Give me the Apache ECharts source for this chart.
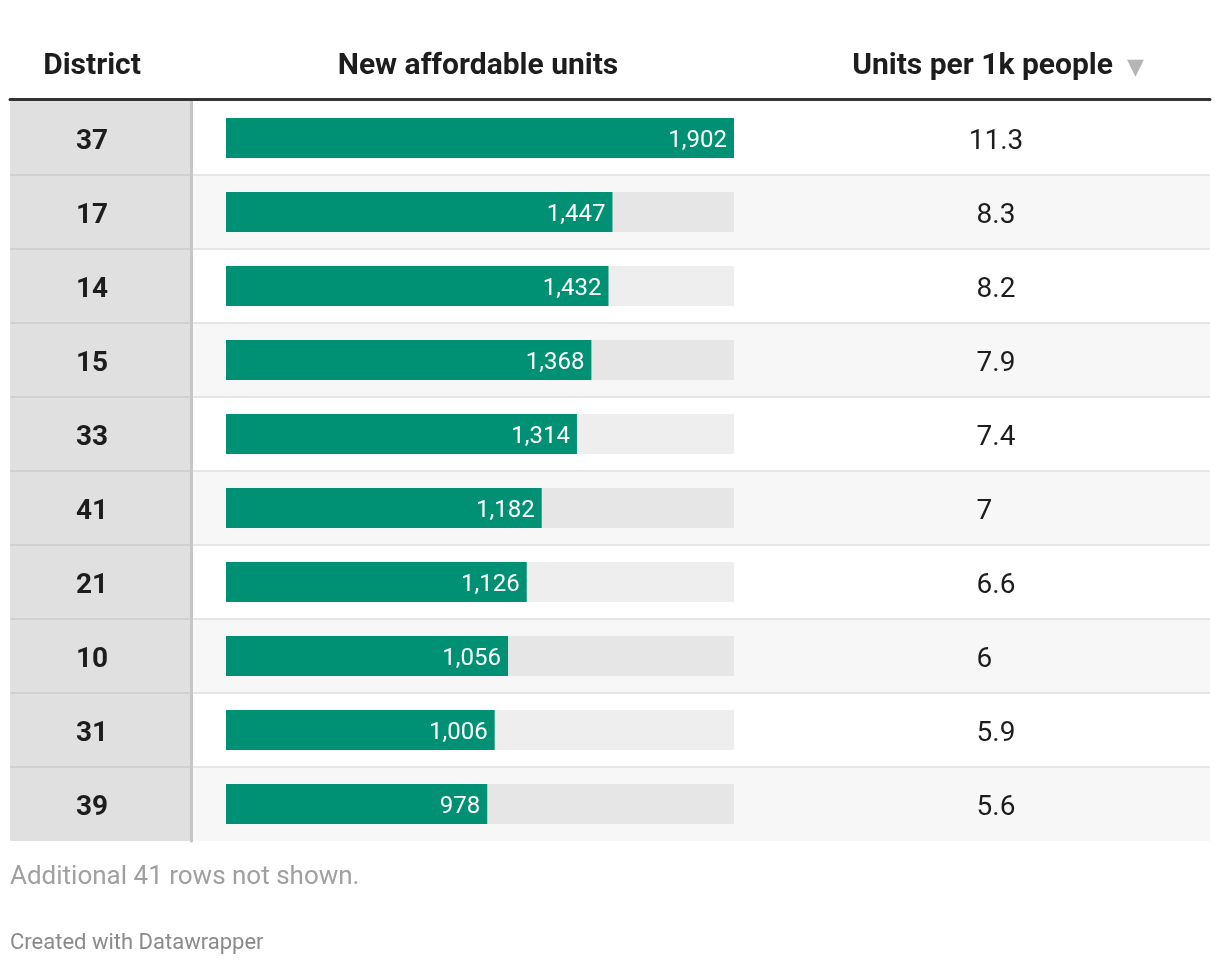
<!DOCTYPE html>
<html><head><meta charset="utf-8">
<script src="https://cdn.jsdelivr.net/npm/echarts@6/dist/echarts.min.js"></script>
<style>html,body{margin:0;padding:0;background:#fff}#c{width:1220px;height:966px}</style>
</head><body><div id="c"></div>
<script>
const districts = ['37','17','14','15','33','41','21','10','31','39'];
const units = [1902,1447,1432,1368,1314,1182,1126,1056,1006,978];
const perK = [11.3,8.3,8.2,7.9,7.4,7,6.6,6,5.9,5.6];
const headers = ['District','New affordable units','Units per 1k people'];
const note = 'Additional 41 rows not shown.';
const credit = 'Created with Datawrapper';

const FONT = 'Roboto';
const TOP = 101, H = 740;
const chart = echarts.init(document.getElementById('c'), null, {renderer:'canvas'});

// integers get an invisible ".0" so they line up like Datawrapper's centred numbers
function fmtPerK(v){
  const s = String(v);
  return s.indexOf('.') >= 0 ? '{v|' + s + '}' : '{v|' + s + '}{h|.0}';
}

const hStyle = {fontSize:30, fontWeight:'bold', color:'#1d1d1d', fontFamily:FONT};

chart.setOption({
  animation:false,
  title:[
    {text:headers[0], left:92, top:51, textAlign:'center', padding:0, textStyle:hStyle},
    {text:headers[1], left:478, top:51, textAlign:'center', padding:0, textStyle:hStyle},
    {text:'{a|' + headers[2] + '}{b|▼}', left:998, top:51, textAlign:'center', padding:0,
      textStyle:{rich:{a:hStyle, b:{fontSize:22, color:'#b5b5b5', fontFamily:'DejaVu Sans', padding:[4,0,0,14]}}}},
    {text:note, left:10, top:864, padding:0, textStyle:{fontSize:26, color:'#a0a0a0', fontWeight:'normal', fontFamily:FONT}},
    {text:credit, left:10, top:932, padding:0, textStyle:{fontSize:22, color:'#8a8a8a', fontWeight:'normal', fontFamily:FONT}}
  ],
  grid:[
    {left:10, right:10, top:TOP, height:H},
    {left:10, width:181, top:TOP, height:H},
    {left:226, width:508, top:TOP, height:H},
    {left:900, width:96, top:TOP, height:H}
  ],
  xAxis:[
    {gridIndex:0, type:'value', position:'top', min:0, max:1, offset:2,
      axisLine:{show:true, onZero:false, lineStyle:{color:'#333', width:3}},
      axisTick:{show:false}, axisLabel:{show:false}, splitLine:{show:false}},
    {gridIndex:1, type:'value', show:false},
    {gridIndex:2, type:'value', show:false, min:0, max:'dataMax'},
    {gridIndex:3, type:'value', show:false}
  ],
  yAxis:[
    {gridIndex:0, type:'category', inverse:true, data:districts,
      axisLine:{show:false}, axisTick:{show:false}, axisLabel:{show:false},
      splitArea:{show:true, areaStyle:{color:['#ffffff','#f7f7f7']}},
      splitLine:{show:true, showMinLine:false, showMaxLine:false, lineStyle:{color:'#e6e6e6', width:2}}},
    {gridIndex:1, type:'category', inverse:true, data:districts, position:'right',
      axisLine:{show:true, onZero:false, lineStyle:{color:'#c6c6c6', width:3}}, axisTick:{show:false},
      axisLabel:{show:true, inside:true, margin:99, align:'center',
        formatter:v => '{d|' + v + '}',
        rich:{d:{fontSize:28, fontWeight:'bold', color:'#1d1d1d', fontFamily:FONT, padding:[7,0,0,0]}}},
      splitArea:{show:true, areaStyle:{color:['#e0e0e0']}},
      splitLine:{show:true, showMinLine:false, showMaxLine:false, lineStyle:{color:'#d0d0d0', width:2}}},
    {gridIndex:2, type:'category', inverse:true, data:districts, show:false},
    {gridIndex:3, type:'category', inverse:true, data:districts, position:'right',
      axisLine:{show:false, onZero:false}, axisTick:{show:false},
      axisLabel:{show:true, inside:false, margin:0, align:'center',
        formatter:(v, i) => fmtPerK(perK[i]),
        rich:{
          v:{fontSize:28, color:'#1d1d1d', fontFamily:FONT, padding:[7,0,0,0]},
          h:{fontSize:28, color:'rgba(0,0,0,0)', fontFamily:FONT, padding:[7,0,0,0]}
        }}}
  ],
  series:[
    {type:'bar', xAxisIndex:2, yAxisIndex:2, data:units, barWidth:40,
      itemStyle:{color:'#009174'},
      showBackground:true, backgroundStyle:{color:'rgba(0,0,0,0.068)'},
      label:{show:true, position:'insideRight', distance:7, offset:[0,3], color:'#ffffff', fontSize:24, fontFamily:FONT,
        formatter:p => p.value.toLocaleString('en-US')}}
  ]
});
</script></body></html>
